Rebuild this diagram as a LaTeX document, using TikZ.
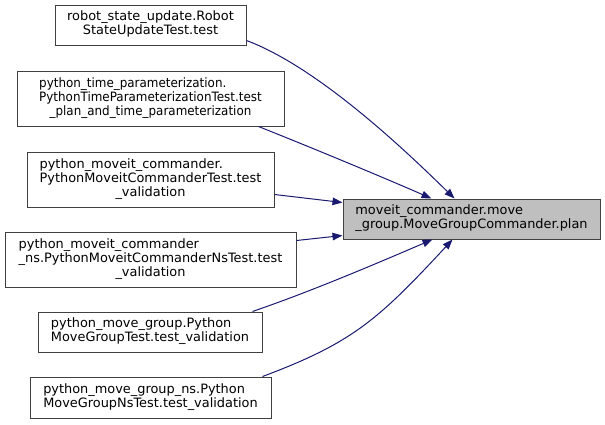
\documentclass[tikz,border=0pt]{standalone}
\usepackage{graphicx}
\usepackage{fontspec}
\setmainfont{DejaVu Sans}
\usetikzlibrary{arrows.meta,calc}
\definecolor{edgec}{HTML}{191970}
\definecolor{boxc}{HTML}{404040}
\definecolor{hifill}{HTML}{BFBFBF}
\newcommand{\dlab}[2]{\begin{tabular}{@{}l@{}}#1\\\multicolumn{1}{@{}c@{}}{#2}\end{tabular}}
\begin{document}
\begin{tikzpicture}[x=1pt,y=-1pt,
  box/.style={draw=boxc, fill=white, line width=1pt, inner sep=0pt,
    font=\fontsize{12.9}{14}\selectfont},
  hibox/.style={box, fill=hifill},
  edge/.style={draw=edgec, line width=1pt, -{Triangle[length=10pt,width=7.5pt]}}]
\useasboundingbox (0,0) rectangle (605,424);
\node[box, minimum width=191pt, minimum height=40pt] (n1) at (150.5,25)
  {\dlab{robot\_state\_update.Robot}{StateUpdateTest.test}};
\node[box, minimum width=267pt, minimum height=55pt] (n2) at (150.5,98.5)
  {\scalebox{0.925}[1]{\dlab{python\_time\_parameterization.\\PythonTimeParameterizationTest.test}{\_plan\_and\_time\_parameterization}}};
\node[box, minimum width=247pt, minimum height=55pt] (n3) at (150.5,179.5)
  {\dlab{python\_moveit\_commander.\\PythonMoveitCommanderTest.test}{\_validation}};
\node[box, minimum width=291pt, minimum height=55pt] (n4) at (150.5,259.5)
  {\dlab{python\_moveit\_commander\\\_ns.PythonMoveitCommanderNsTest.test}{\_validation}};
\node[box, minimum width=224pt, minimum height=40pt] (n5) at (150,332)
  {\dlab{python\_move\_group.Python}{MoveGroupTest.test\_validation}};
\node[box, minimum width=241pt, minimum height=41pt] (n6) at (150.5,397.5)
  {\dlab{python\_move\_group\_ns.Python}{MoveGroupNsTest.test\_validation}};
\node[hibox, minimum width=257pt, minimum height=40pt] (t) at (471.5,219)
  {\dlab{moveit\_commander.move}{\_group.MoveGroupCommander.plan}};

\draw[edge] ($(n1.south east)+(0,-5)$) .. controls (320,68) and (410,155) .. ($(t.north west)+(112,0)$);
\draw[edge] ($(n2.south east)+(-26,0)$) .. controls (310,147) and (380,176) .. ($(t.north west)+(89,0)$);
\draw[edge] ($(n3.south east)+(0,-13)$) -- ($(t.north west)+(0,4)$);
\draw[edge] ($(n4.north east)+(0,9)$) -- ($(t.south west)+(0,-4)$);
\draw[edge] ($(n5.north east)+(-10,0)$) .. controls (312,291) and (373,265) .. ($(t.south west)+(90,0)$);
\draw[edge] ($(n6.north east)+(-9,0)$) .. controls (352,343) and (378,320) .. ($(t.south west)+(110,0)$);
\end{tikzpicture}
\end{document}
